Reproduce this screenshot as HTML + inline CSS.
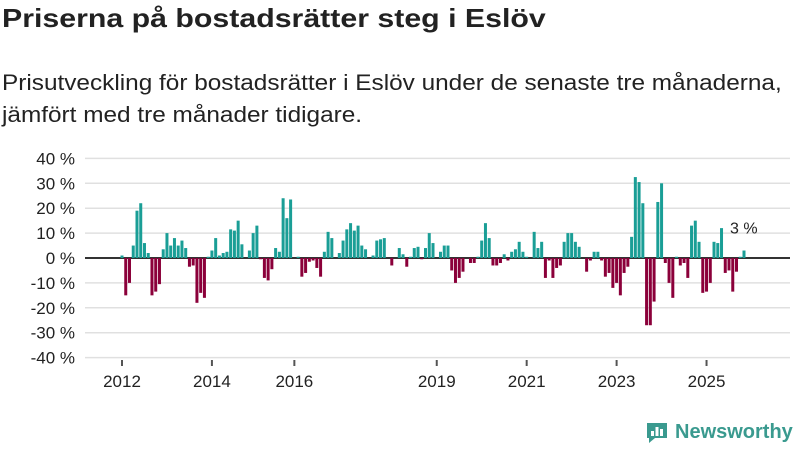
<!DOCTYPE html>
<html><head><meta charset="utf-8">
<style>
body{margin:0;background:#fff;width:800px;height:450px;overflow:hidden;font-family:"Liberation Sans",sans-serif;color:#222}
#title{position:absolute;left:2px;top:3px;font-size:26px;font-weight:bold;margin:0;transform:scaleX(1.165);transform-origin:0 0;white-space:nowrap}
#sub{position:absolute;left:2px;top:67px;font-size:22px;line-height:32px;color:#222;white-space:nowrap;transform:scaleX(1.107);transform-origin:0 0}
svg{position:absolute;left:0;top:0}
</style></head><body>
<h1 id="title">Priserna på bostadsrätter steg i Eslöv</h1>
<div id="sub">Prisutveckling för bostadsrätter i Eslöv under de senaste tre månaderna,<br>jämfört med tre månader tidigare.</div>
<svg id="chart" width="800" height="450"></svg>
<script>
const values=[1,-15,-10,5,19,22,6,2,-15,-13.5,-10.5,3.5,10,5,8,5,7,4,-3.5,-3,-18,-14,-16,0.5,3,8,1,2,2.5,11.5,11,15,5.5,0,3,10,13,-0.5,-8,-9,-4.5,4,2.5,
24,16,23.5,0,0.5,-7.5,-6,-1.5,-1,-4,-7.5,2.5,10.5,8,0,2,7,11.5,14,11,13,5,3.5,0,1,7,7.5,8,0,-3,0,4,1.5,-3.5,0.5,4,4.5,-0.5,4,10,6,
0,2.5,5,5,-5,-10,-8,-5.5,0,-2,-2,0.5,7,14,8,-3,-3,-2,1.5,-1,2.5,3.5,6.5,2.5,0.5,0,10.5,4,6.5,-8,-1,-8,-4,-3,6.5,10,10,6.5,4.5,0,-5.5,-1,2.5,2.5,
-1,-7.5,-6,-12,-10,-15,-6,-3.5,8.5,32.5,30.5,22,-27,-27,-17.5,22.5,30,-2,-10,-16,0.5,-3,-2,-8,13,15,6.5,-14,-13.5,-10,6.5,6,12,-6,-5,-13.5,-5.5,0.5,3];
const yTicks=[40,30,20,10,0,-10,-20,-30,-40];
const xTickLabels=["2012","2014","2016","2019","2021","2023","2025"];
const xTickIdx=[0,24,46,84,108,132,156];
const lastLabel="3 %";
const NS="http://www.w3.org/2000/svg";
const svg=document.getElementById('chart');
const y=v=>258-v*2.49;
const x=i=>122+i*3.747;
function mk(t,a,txt){const e=document.createElementNS(NS,t);for(const k in a)e.setAttribute(k,a[k]);if(txt!=null)e.textContent=txt;svg.appendChild(e);return e;}
yTicks.forEach(v=>{
 const g=mk('line',{x1:85,x2:790,y1:y(v),y2:y(v),stroke:v===0?'#333':'#e0e0e0','stroke-width':v===0?2:1.5});
 
 
 const t=mk('text',{x:75,y:y(v)+6,'text-anchor':'end','font-size':17,fill:'#222'},v+' %');
 
 
});
values.forEach((v,i)=>{
 const top=v>=0?y(v):y(0);
 const r=mk('rect',{x:x(i)-1.5,y:top,width:3,height:Math.abs(y(v)-y(0)),fill:v>=0?'#1a9e96':'#8b003a'});
 
 
});
xTickIdx.forEach((idx,k)=>{
 const l=mk('line',{x1:x(idx),x2:x(idx),y1:360,y2:366,stroke:'#555','stroke-width':2});
 
 
 const t=mk('text',{x:x(idx),y:387,'text-anchor':'middle','font-size':17,fill:'#222'},xTickLabels[k]);
 
 
});
const li=values.length-1;
const lab=mk('text',{x:x(li)-14,y:y(values[li])-17,'font-size':16,fill:'#222'},lastLabel);


</script>
<div style="position:absolute;left:645px;top:420px;display:flex;align-items:center">
<svg width="24" height="24" style="position:static"><path d="M2 3h20v15h-12l-6 5v-5h-2z" fill="#3a9a8f"/><rect x="6" y="11" width="3" height="5" fill="#fff"/><rect x="10.5" y="7" width="3" height="9" fill="#fff"/><rect x="15" y="9" width="3" height="7" fill="#fff"/></svg>
<span style="font-size:20px;font-weight:bold;color:#3a9a8f;margin-left:6px">Newsworthy</span></div>
</body></html>
